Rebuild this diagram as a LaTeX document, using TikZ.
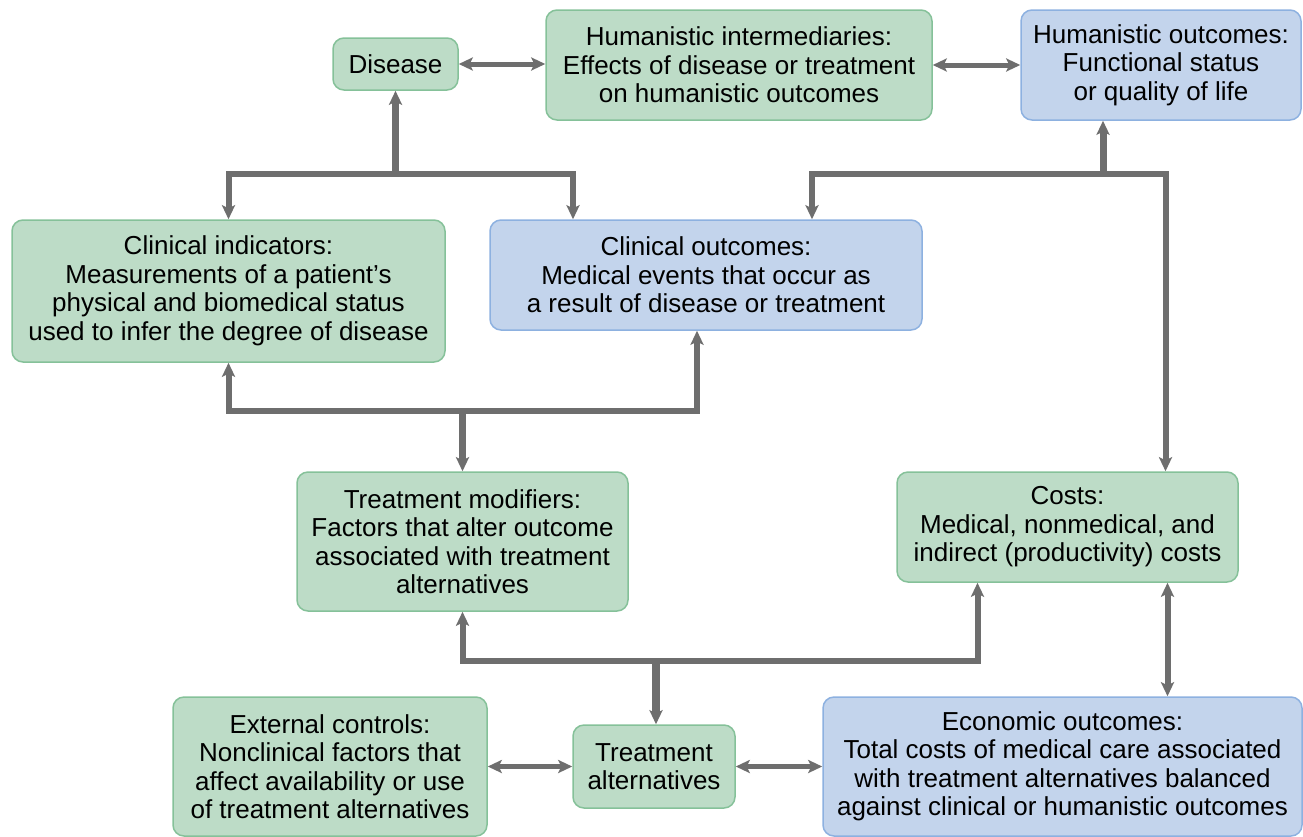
\documentclass[tikz,border=0pt]{standalone}
\usepackage{fontspec}
\setmainfont{Liberation Sans}
\usetikzlibrary{arrows.meta,calc}
\definecolor{gfill}{HTML}{BDDCC7}
\definecolor{gline}{HTML}{85C199}
\definecolor{bfill}{HTML}{C3D4EC}
\definecolor{bline}{HTML}{8DB1E0}
\definecolor{lgray}{HTML}{6E6E6E}
\tikzset{
  mytip/.tip={Stealth[length=14pt,width=13pt,inset=3pt]},
  box/.style={rounded corners=11pt, line width=1.5pt, align=center, inner sep=0pt,
    font=\fontsize{26}{28.5}\selectfont},
  gbox/.style={box, draw=gline, fill=gfill},
  bbox/.style={box, draw=bline, fill=bfill},
  conn/.style={draw=lgray, line width=6pt},
  stem/.style={draw=lgray, line width=7pt, -mytip},
  pair/.style={draw=lgray, line width=5pt, mytip-mytip},
}
\begin{document}
\begin{tikzpicture}[x=1pt,y=-1pt]
\useasboundingbox (0,0) rectangle (1303,836);
% nodes
\node[gbox, minimum width=125pt, minimum height=52pt] (dis) at (395.5,64) {Disease};
\node[gbox, minimum width=386pt, minimum height=110pt] (hi) at (739,65)
  {Humanistic intermediaries:\\Effects of disease or treatment\\on humanistic outcomes};
\node[bbox, minimum width=280pt, minimum height=110pt] (ho) at (1161,65)
  {Humanistic outcomes:\\Functional status\\or quality of life};
\node[gbox, minimum width=433pt, minimum height=142pt] (ci) at (228.5,291)
  {Clinical indicators:\\Measurements of a patient’s\\physical and biomedical status\\used to infer the degree of disease};
\node[bbox, minimum width=432pt, minimum height=110pt] (co) at (706,275)
  {Clinical outcomes:\\Medical events that occur as\\a result of disease or treatment};
\node[gbox, minimum width=331pt, minimum height=139pt] (tm) at (462.5,541.5)
  {Treatment modifiers:\\Factors that alter outcome\\associated with treatment\\alternatives};
\node[gbox, minimum width=341pt, minimum height=110pt] (costs) at (1067.5,527)
  {Costs:\\Medical, nonmedical, and\\indirect (productivity) costs};
\node[gbox, minimum width=314pt, minimum height=139pt] (ec) at (330,766.5)
  {External controls:\\Nonclinical factors that\\affect availability or use\\of treatment alternatives};
\node[gbox, minimum width=162pt, minimum height=83pt] (ta) at (654,766.5)
  {Treatment\\alternatives};
\node[bbox, minimum width=479pt, minimum height=139pt] (eo) at (1062.5,766.5)
  {Economic outcomes:\\Total costs of medical care associated\\with treatment alternatives balanced\\against clinical or humanistic outcomes};
% top row pairs
\draw[pair] (dis.east) -- (dis.east -| hi.west);
\draw[pair] (hi.east) -- (hi.east -| ho.west);
% disease bracket
\coordinate (j1) at ($(dis.south)+(0,85)$);
\draw[conn, mytip-mytip] (ci.north) -- ++(0,-45) -| ($(co.north)+(-133,0)$);
\draw[stem] (j1) -- (dis.south);
% humanistic outcomes bracket
\coordinate (j2) at ($(ho.south)+(-58,55)$);
\coordinate (j2t) at ($(ho.south)+(-58,0)$);
\draw[conn, mytip-mytip] ($(co.north)+(106,0)$) -- ++(0,-45) -| ($(costs.north)+(98,0)$);
\draw[stem] (j2) -- (j2t);
% treatment modifiers bracket
\coordinate (j3) at ($(tm.north)+(0,-62)$);
\draw[conn, mytip-mytip] (ci.south) -- ++(0,48) -| ($(co.south)+(-9,0)$);
\draw[stem] (j3) -- (tm.north);
% treatment alternatives bracket
\coordinate (j4) at ($(ta.north)+(2,-65)$);
\coordinate (j4t) at ($(ta.north)+(2,0)$);
\draw[conn, mytip-mytip] (tm.south) -- ++(0,49) -| ($(costs.south)+(-90,0)$);
\draw[stem, line width=7.5pt] (j4) -- (j4t);
% costs - economic outcomes
\coordinate (k) at ($(costs.south)+(100,0)$);
\draw[conn, mytip-mytip] (k) -- (k |- eo.north);
% bottom pairs
\draw[pair] (ec.east) -- (ec.east -| ta.west);
\draw[pair] (ta.east) -- (ta.east -| eo.west);
\end{tikzpicture}
\end{document}
